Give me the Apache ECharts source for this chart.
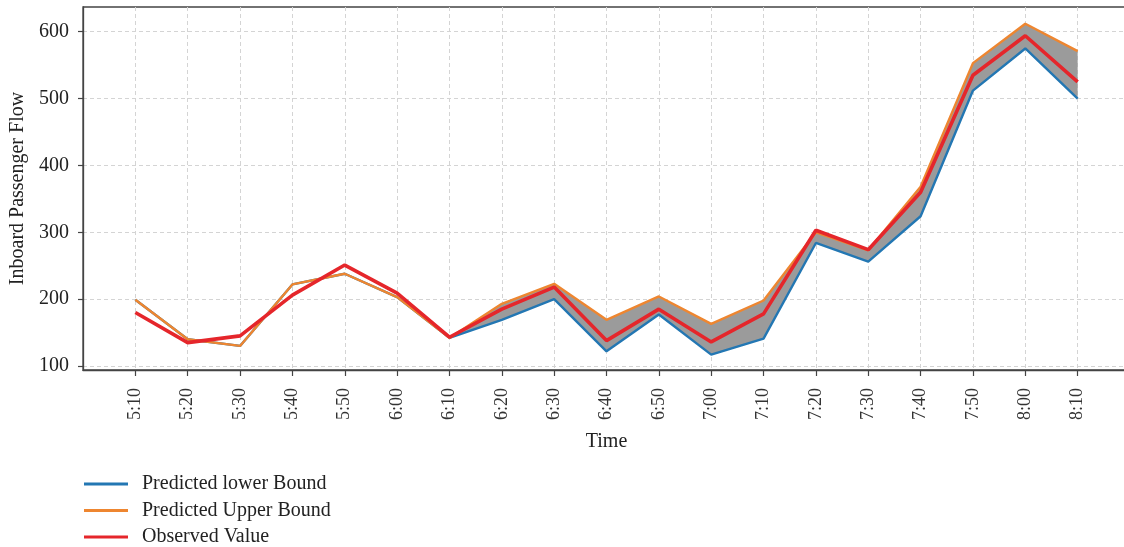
<!DOCTYPE html>
<html>
<head>
<meta charset="utf-8">
<script src="https://cdn.jsdelivr.net/npm/echarts@6/dist/echarts.min.js"></script>
<style>
  html, body { margin: 0; padding: 0; background: #fff; }
  #chart { width: 1124px; height: 547px; }
</style>
</head>
<body>
<div id="chart"></div>
<script>
// Ten-minute time slots
const times = ['5:10', '5:20', '5:30', '5:40', '5:50', '6:00', '6:10', '6:20', '6:30', '6:40',
               '6:50', '7:00', '7:10', '7:20', '7:30', '7:40', '7:50', '8:00', '8:10'];

// Inboard passenger flow per slot
const lowerBound = [199, 140, 130, 222, 238, 203, 142, 169, 200, 122, 177, 117, 141, 284, 256, 324, 512, 575, 500];
const upperBound = [199, 140, 130, 222, 238, 203, 142, 193, 223, 169, 204, 163, 198, 300, 273, 368, 553, 612, 571];
const observed   = [180, 135, 145, 206, 251, 209, 143, 185, 218, 138, 185, 136, 178, 303, 274, 360, 535, 594, 525];

const yTicks = [100, 200, 300, 400, 500, 600];

const serif = '"Liberation Serif", "DejaVu Serif", serif';
const idx = times.map((_, i) => i);
const pairs = arr => arr.map((v, i) => [i, v]);

const chart = echarts.init(document.getElementById('chart'));

chart.setOption({
  animation: false,
  grid: {
    left: 83, right: -6, top: 7, bottom: 177,
    outerBoundsMode: 'none',
    containLabel: false,
    show: true, borderColor: '#444', borderWidth: 1.3, backgroundColor: 'transparent'
  },
  legend: {
    orient: 'vertical',
    left: 84, top: 474, padding: 0,
    itemWidth: 44, itemHeight: 3, itemGap: 6.5,
    icon: 'rect',
    textStyle: { fontFamily: serif, fontSize: 20, color: '#222', lineHeight: 20, padding: [0, 0, 0, 9] },
    data: ['Predicted lower Bound', 'Predicted Upper Bound', 'Observed Value']
  },
  xAxis: {
    type: 'value', min: -1, max: 19,
    name: 'Time', nameLocation: 'middle', nameGap: 62,
    nameTextStyle: { fontFamily: serif, fontSize: 20, color: '#222' },
    axisLine: { show: true, onZero: false, lineStyle: { color: '#444', width: 1.3 } },
    axisTick: { show: true, length: 6, customValues: idx, lineStyle: { color: '#444', width: 1.2 } },
    axisLabel: {
      customValues: idx, rotate: 90, margin: 18,
      fontFamily: serif, fontSize: 18, color: '#333',
      formatter: v => times[Math.round(v)] || ''
    },
    splitLine: { show: true, lineStyle: { color: '#d4d4d4', type: [4, 3], width: 1 } }
  },
  yAxis: {
    type: 'value', min: 94, max: 637,
    name: 'Inboard Passenger Flow', nameLocation: 'middle', nameGap: 54,
    nameTextStyle: { fontFamily: serif, fontSize: 20, color: '#222' },
    axisLine: { show: true, onZero: false, lineStyle: { color: '#444', width: 1.3 } },
    axisTick: { show: true, length: 5, customValues: yTicks, lineStyle: { color: '#444', width: 1.2 } },
    axisLabel: { customValues: yTicks, margin: 14, fontFamily: serif, fontSize: 20, color: '#222' },
    splitLine: { show: true, lineStyle: { color: '#d4d4d4', type: [4, 3], width: 1 } }
  },
  series: [
    {
      // shaded band between the predicted bounds
      type: 'custom',
      name: 'band',
      z: 1,
      silent: true,
      data: [[0, lowerBound[0]]],
      renderItem: function (params, api) {
        const pts = [];
        for (let i = 0; i < times.length; i++) pts.push(api.coord([i, upperBound[i]]));
        for (let i = times.length - 1; i >= 0; i--) pts.push(api.coord([i, lowerBound[i]]));
        return { type: 'polygon', shape: { points: pts }, style: { fill: '#9b9b9b' } };
      }
    },
    {
      type: 'line', name: 'Predicted lower Bound', z: 2,
      data: pairs(lowerBound), showSymbol: false,
      itemStyle: { color: '#2377b3' },
      lineStyle: { color: '#2377b3', width: 2.4 }
    },
    {
      type: 'line', name: 'Predicted Upper Bound', z: 3,
      data: pairs(upperBound), showSymbol: false,
      itemStyle: { color: '#ee8630' },
      lineStyle: { color: '#ee8630', width: 2.4 }
    },
    {
      type: 'line', name: 'Observed Value', z: 4,
      data: pairs(observed), showSymbol: false,
      itemStyle: { color: '#e5262b' },
      lineStyle: { color: '#e5262b', width: 3.6 }
    }
  ]
});
</script>
</body>
</html>
